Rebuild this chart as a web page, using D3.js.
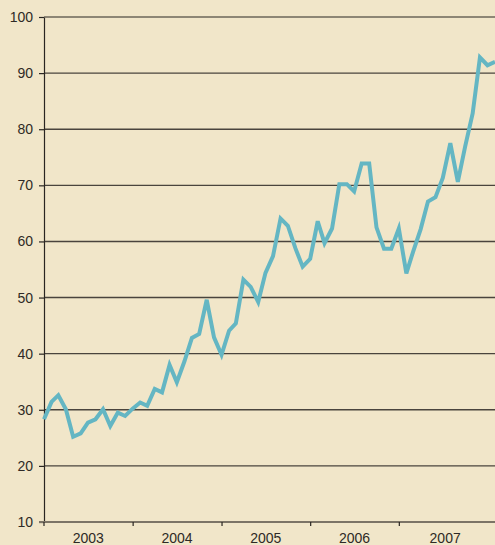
<!DOCTYPE html>
<html>
<head>
<meta charset="utf-8">
<script src="https://cdn.jsdelivr.net/npm/d3@7"></script>
<style>
  html, body { margin: 0; padding: 0; background: #f1e6c9; }
  svg { display: block; }
  text { font-family: "Liberation Sans", Arial, sans-serif; }
</style>
</head>
<body>
<div id="chart"></div>
<script>
// monthly values, Jan 2003 - Feb 2008
const startMonth = new Date(2003, 0, 1)
const values = [
  28.3, 31.4, 32.6, 30.1, 25.2, 25.8, 27.7, 28.3, 30.1, 27.1, 29.5, 28.9,
  30.2, 31.3, 30.7, 33.7, 33.1, 38.0, 34.9, 38.6, 42.8, 43.5, 49.6, 42.9,
  39.8, 44.1, 45.4, 53.2, 51.9, 49.2, 54.4, 57.4, 64.1, 62.8, 58.8, 55.5,
  56.9, 63.6, 59.7, 62.3, 70.2, 70.2, 68.9, 73.9, 73.9, 62.5, 58.7, 58.7,
  62.3, 54.3, 58.2, 62.2, 67.1, 67.9, 71.3, 77.5, 70.6, 76.9, 82.8, 92.8,
  91.4, 92.0
]
const years = ["2003", "2004", "2005", "2006", "2007"]
const yTicks = [10, 20, 30, 40, 50, 60, 70, 80, 90, 100]

const width = 495, height = 545
const margin = { top: 17, right: 0, bottom: 23, left: 44 }

const data = values.map((v, i) => ({ date: d3.timeMonth.offset(startMonth, i), value: v }))

let svg = d3.select('#chart').append('svg')
  .attr('width', width)
  .attr('height', height)
  .style('background-color', '#f1e6c9')

let x = d3.scaleTime()
  .domain(d3.extent(data, d => d.date))
  .range([margin.left, width - margin.right])

let y = d3.scaleLinear()
  .domain([10, 100])
  .range([height - margin.bottom, margin.top])

// horizontal grid lines
svg.append('g')
  .selectAll('line')
  .data(yTicks.filter(t => t > 10))
  .enter()
  .append('line')
  .attr('x1', margin.left)
  .attr('x2', width)
  .attr('y1', d => y(d))
  .attr('y2', d => y(d))
  .attr('stroke', d => d === 100 ? '#2a2622' : '#4a443d')
  .attr('stroke-width', d => d === 100 ? 1.2 : 1.4)

// y axis
let yAxis = svg.append('g')
  .attr('transform', `translate(${margin.left},0)`)
  .call(d3.axisLeft(y).tickValues(yTicks).tickSize(5).tickSizeOuter(0).tickPadding(6))
yAxis.select('.domain').attr('stroke', '#2a2622').attr('stroke-width', 1.2)
yAxis.selectAll('.tick line').attr('stroke', '#2a2622').attr('stroke-width', 1.2)
yAxis.selectAll('.tick text')
  .attr('fill', '#2e2a26')
  .style('font-size', '14px')

// x axis: ticks at year boundaries, labels mid-year
const yearStarts = years.slice(1).map(yr => new Date(+yr, 0, 1))
let xAxis = svg.append('g')
  .attr('transform', `translate(0,${height - margin.bottom})`)
  .call(d3.axisBottom(x).tickValues(yearStarts).tickSize(4).tickSizeOuter(0).tickFormat(''))
xAxis.select('.domain').attr('stroke', '#7c7466').attr('stroke-width', 2)
  .attr('d', `M${margin.left - 5},0H${width}`)
xAxis.selectAll('.tick line').attr('stroke', '#2a2622').attr('stroke-width', 1.2)

svg.append('line')
  .attr('x1', margin.left).attr('x2', margin.left)
  .attr('y1', height - margin.bottom).attr('y2', height - margin.bottom + 4)
  .attr('stroke', '#2a2622').attr('stroke-width', 1.2)

// label centred in the visible part of each year
function labelX (yr) {
  let a = x(new Date(+yr, 0, 1))
  let b = Math.min(x(new Date(+yr + 1, 0, 1)), width)
  return Math.max(a, margin.left) / 2 + b / 2
}

svg.append('g')
  .selectAll('text')
  .data(years)
  .enter()
  .append('text')
  .attr('x', d => d === '2007' ? labelX(d) + 2 : labelX(d))
  .attr('y', height - 2)
  .attr('text-anchor', 'middle')
  .attr('fill', '#2e2a26')
  .style('font-size', '14px')
  .text(d => d)

// the series
let line = d3.line()
  .x(d => x(d.date))
  .y(d => y(d.value))

svg.append('path')
  .datum(data)
  .attr('fill', 'none')
  .attr('stroke', '#64b6c3')
  .attr('stroke-width', 4)
  .attr('stroke-linejoin', 'miter')
  .attr('d', line)
</script>
</body>
</html>
